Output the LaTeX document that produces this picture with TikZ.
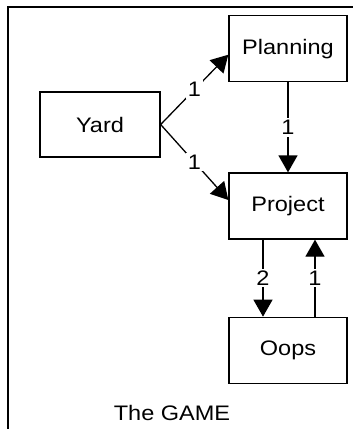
\documentclass[tikz,border=0pt]{standalone}
\usepackage{fontspec}
\setmainfont{Liberation Sans}[FakeStretch=1.12]
\usetikzlibrary{arrows.meta,positioning}

\begin{document}
\begin{tikzpicture}[
  x=1pt, y=1pt,
  node distance=77pt and 69pt,
  box/.style={draw, line width=1.3pt, minimum width=118pt, minimum height=66pt,
    inner sep=3pt, font=\fontsize{21}{25}\selectfont},
  lbl/.style={fill=white, inner sep=2pt, font=\fontsize{21}{25}\selectfont},
  arr/.style={-{Triangle[length=17pt,width=19pt]}, line width=1.3pt},
]
\useasboundingbox (0,0) rectangle (353,-429);
\draw[line width=1.3pt] (353,-7) -- (8,-7) -- (8,-429);

\node[box] (proj) at (288,-206) {Project};
\node[box, above=90pt of proj] (plan) {Planning};
\node[box, below=of proj] (oops) {Oops};
\node[box, minimum width=120pt, minimum height=65pt] (yard) at (100,-124.5) {Yard};
\node[font=\fontsize{21}{25}\selectfont] (game) at (172,-412.5) {The GAME};

\draw[arr] (yard.east) -- node[lbl]{1} ([yshift=-6pt]plan.west);
\draw[arr] (yard.east) -- node[lbl]{1} ([yshift=6pt]proj.west);
\draw[arr] (plan) -- node[lbl]{1} (proj);
\draw[arr] ([xshift=-25pt]proj.south) -- node[lbl]{2} ([xshift=-25pt]oops.north);
\draw[arr] ([xshift=27pt]oops.north) -- node[lbl]{1} ([xshift=27pt]proj.south);
\end{tikzpicture}
\end{document}
